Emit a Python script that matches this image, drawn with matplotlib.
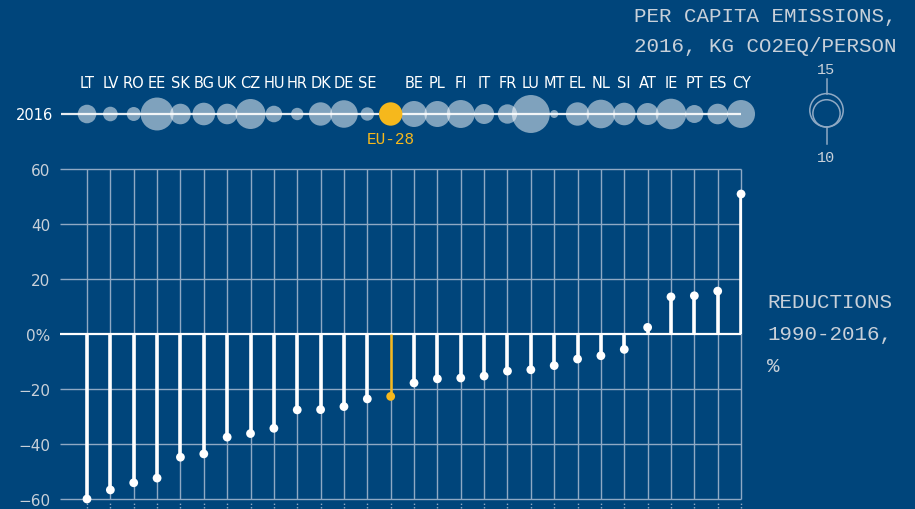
"""
Per capita GHG emissions 2016 (bubbles) + reductions 1990-2016 (lollipops), EU-28.
"""
import numpy as np
import matplotlib
matplotlib.use("Agg")
import matplotlib.pyplot as plt
from matplotlib.patches import Circle

countries = ["LT", "LV", "RO", "EE", "SK", "BG", "UK", "CZ", "HU", "HR", "DK", "DE", "SE",
             "EU-28", "BE", "PL", "FI", "IT", "FR", "LU", "MT", "EL", "NL", "SI", "AT",
             "IE", "PT", "ES", "CY"]
# reduction 1990-2016, %
reductions = [-60.0, -56.7, -54.1, -52.4, -44.8, -43.6, -37.5, -36.2, -34.3, -27.6, -27.5,
              -26.4, -23.6, -22.7, -17.8, -16.3, -16.0, -15.3, -13.5, -13.0, -11.5, -9.1,
              -7.9, -5.6, 2.4, 13.5, 13.9, 15.6, 50.9]
# per capita emissions 2016 (bubble size)
emissions = [4.65, 2.87, 2.63, 14.6, 5.7, 6.87, 5.7, 12.1, 3.7, 2.07, 7.36, 10.2, 2.41,
             7.36, 9.09, 9.09, 10.5, 5.38, 5.06, 19.4, 0.86, 7.36, 11.0, 6.87, 6.51,
             12.6, 4.35, 5.7, 10.5]
legend_sizes = [15, 10]
yticks = [60, 40, 20, 0, -20, -40, -60]
ytick_labels = ["60", "40", "20", "0%", "\u221220", "\u221240", "\u221260"]

BG = "#00457b"
GRID = "#8fa9c4"
ORANGE = "#f6b81c"
TXT = "#c8d0d9"
MONO = "Liberation Mono"

W, H, DPI = 915, 510, 100
K = 4.31  # bubble radius (px) = K * sqrt(value)


def r_px(v):
    return K * np.sqrt(v)


def main():
    x = np.arange(len(countries))
    eu = countries.index("EU-28")
    xlim = (-1.156, 28.04)

    fig = plt.figure(figsize=(W / DPI, H / DPI), dpi=DPI, facecolor=BG)

    # --- lollipops ---
    ax = fig.add_axes([60 / W, 0, 682 / W, 340 / H])
    ax.set_facecolor(BG)
    ax.set_xlim(*xlim)
    ax.set_ylim(-63.64, 60)
    for s in ax.spines.values():
        s.set_visible(False)
    ax.set_xticks([])
    ax.set_yticks(yticks)
    ax.set_yticklabels(ytick_labels)
    ax.tick_params(axis="y", length=0, pad=7, labelsize=11, labelcolor=TXT)

    ax.hlines([t for t in yticks if t != 0], xlim[0], x[-1], color=GRID, lw=1,
              zorder=1, clip_on=False)
    ax.vlines(x, -60, 60, color=GRID, lw=1, zorder=1, clip_on=False)
    ax.vlines(x, -63.2, -61.0, color=GRID, lw=1, linestyles=(0, (1, 1.5)), zorder=1,
              clip_on=False)
    ax.hlines(0, xlim[0], x[-1], color="white", lw=1.6, zorder=2)

    cols = ["white"] * len(x)
    cols[eu] = ORANGE
    lws = [2.6] * len(x)
    lws[eu] = 1.8
    ax.vlines(x, 0, reductions, colors=cols, lw=lws, zorder=3)
    ax.scatter(x, reductions, s=[40] * len(x), c=cols, linewidths=0, zorder=4,
               clip_on=False)

    # --- bubbles ---
    axt = fig.add_axes([60 / W, 340 / H, 682 / W, 110 / H])
    axt.set_xlim(*xlim)
    axt.set_ylim(-55, 55)
    axt.axis("off")
    axt.hlines(0, -1.11, x[-1], color="#e6ebf0", lw=1.6, zorder=1)
    sizes = (1.44 * K) ** 2 * np.array(emissions)
    bcol = [(1, 1, 1, 0.5)] * len(x)
    bcol[eu] = ORANGE
    order = [i for i in range(len(x)) if i != eu] + [eu]
    axt.scatter(x[order], np.zeros(len(x)), s=sizes[order],
                c=[bcol[i] for i in order], linewidths=0, zorder=2, clip_on=False)
    for i, c in enumerate(countries):
        if i == eu:
            axt.text(x[i], -25, c, ha="center", va="center", color=ORANGE,
                     fontsize=11.5, family=MONO)
        else:
            axt.text(x[i], 31, c, ha="center", va="center", color="white",
                     fontsize=10.5)
    fig.text(53 / W, 1 - 115 / H, "2016", ha="right", va="center", color="white",
             fontsize=10.5)

    # --- titles + size legend (pixel overlay) ---
    ov = fig.add_axes([0, 0, 1, 1])
    ov.set_xlim(0, W)
    ov.set_ylim(H, 0)
    ov.axis("off")
    ov.patch.set_alpha(0)
    ov.text(897, 17, "PER CAPITA EMISSIONS,", ha="right", va="center", color=TXT,
            fontsize=15, family=MONO)
    ov.text(897, 47, "2016, KG CO2EQ/PERSON", ha="right", va="center", color=TXT,
            fontsize=15, family=MONO)
    for i, line in enumerate(["REDUCTIONS", "1990-2016,", "%"]):
        ov.text(767, 303 + 32 * i, line, ha="left", va="center", color=TXT,
                fontsize=15, family=MONO)

    lx, base = 826.5, 128
    r_big, r_small = r_px(legend_sizes[0]), r_px(legend_sizes[1])
    for r in (r_big, r_small):
        ov.add_patch(Circle((lx, base - r), r, fill=False, ec=GRID, lw=1.1))
    ov.plot([lx, lx], [80, base - 2 * r_big], color=GRID, lw=1.1)
    ov.plot([lx, lx], [base, 145], color=GRID, lw=1.1)
    ov.text(lx, 70, str(legend_sizes[0]), ha="center", va="center", color=TXT,
            fontsize=11, family=MONO)
    ov.text(lx, 158, str(legend_sizes[1]), ha="center", va="center", color=TXT,
            fontsize=11, family=MONO)

    fig.savefig("out.png", dpi=DPI, facecolor=BG)
    plt.close(fig)


if __name__ == "__main__":
    main()
